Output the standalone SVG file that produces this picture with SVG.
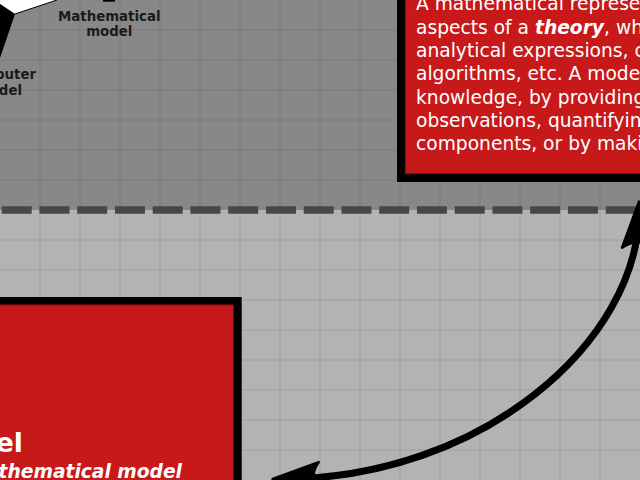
<svg xmlns="http://www.w3.org/2000/svg" width="640" height="480" viewBox="0 0 640 480">
  <defs>
    <style>
      .grid line { stroke: #000; stroke-opacity: 0.1; stroke-width: 1; }
      .box-frame { fill: #000; }
      .box-fill { fill: #c8191a; stroke: #8a1212; stroke-width: 1.2; }
      .body { font-family: "DejaVu Sans", Verdana, sans-serif; font-size: 18.67px; fill: #fff; }
      .label { font-family: "DejaVu Sans", Verdana, sans-serif; font-size: 13.33px; font-weight: bold; fill: #1a1a1a; text-anchor: middle; }
      .title { font-family: "DejaVu Sans", Verdana, sans-serif; font-weight: bold; fill: #fff; }
      .link { fill: none; stroke: #000; stroke-width: 7; }
    </style>
    <marker id="arrow2" markerUnits="strokeWidth" orient="auto-start-reverse" refX="0" refY="0" markerWidth="12" markerHeight="12" overflow="visible">
      <path d="M -5.23,-2.42 L 1.33,0 L -5.23,2.4 C -4.18,0.98 -4.19,-0.97 -5.23,-2.42 Z" fill="#000" stroke="#000" stroke-width="0.375" stroke-linejoin="round"/>
    </marker>
  </defs>

  <!-- two background bands -->
  <rect x="0" y="0" width="640" height="210" fill="#888888"/>
  <rect x="0" y="210" width="640" height="270" fill="#b3b3b3"/>

  <!-- 40 x 30 grid -->
  <g class="grid">
    <line x1="40" y1="0" x2="40" y2="480"/>
    <line x1="80" y1="0" x2="80" y2="480"/>
    <line x1="120" y1="0" x2="120" y2="480"/>
    <line x1="160" y1="0" x2="160" y2="480"/>
    <line x1="200" y1="0" x2="200" y2="480"/>
    <line x1="240" y1="0" x2="240" y2="480"/>
    <line x1="280" y1="0" x2="280" y2="480"/>
    <line x1="320" y1="0" x2="320" y2="480"/>
    <line x1="360" y1="0" x2="360" y2="480"/>
    <line x1="400" y1="0" x2="400" y2="480"/>
    <line x1="440" y1="0" x2="440" y2="480"/>
    <line x1="480" y1="0" x2="480" y2="480"/>
    <line x1="520" y1="0" x2="520" y2="480"/>
    <line x1="560" y1="0" x2="560" y2="480"/>
    <line x1="600" y1="0" x2="600" y2="480"/>
    <line x1="0" y1="30" x2="640" y2="30"/>
    <line x1="0" y1="60" x2="640" y2="60"/>
    <line x1="0" y1="90" x2="640" y2="90"/>
    <line x1="0" y1="120" x2="640" y2="120"/>
    <line x1="0" y1="150" x2="640" y2="150"/>
    <line x1="0" y1="180" x2="640" y2="180"/>
    <line x1="0" y1="240" x2="640" y2="240"/>
    <line x1="0" y1="270" x2="640" y2="270"/>
    <line x1="0" y1="300" x2="640" y2="300"/>
    <line x1="0" y1="330" x2="640" y2="330"/>
    <line x1="0" y1="360" x2="640" y2="360"/>
    <line x1="0" y1="390" x2="640" y2="390"/>
    <line x1="0" y1="420" x2="640" y2="420"/>
    <line x1="0" y1="450" x2="640" y2="450"/>
  </g>

  <!-- dashed separator between the bands -->
  <line x1="1.7" y1="210" x2="640" y2="210" stroke="#474747" stroke-width="7.5" stroke-dasharray="30 7.75"/>

  <!-- solid shape at the top left -->
  <g id="model-shape">
    <polygon points="0,0 57,0 15,14 0,4" fill="#fff"/>
    <polygon points="0,4 15,14 0,58" fill="#000"/>
    <line x1="15" y1="14" x2="57" y2="0" stroke="#000" stroke-width="1"/>
    <rect x="103" y="0" width="12" height="1.7" fill="#000"/>
  </g>

  <g id="mathematical-model-label">
    <text class="label" x="109.3" y="20.5">Mathematical</text>
    <text class="label" x="109.3" y="36">model</text>
  </g>

  <g id="computer-model-label">
    <text class="label" x="36" y="78.5" style="text-anchor:end">puter</text>
    <text class="label" x="22" y="94.5" style="text-anchor:end">del</text>
  </g>

  <!-- theory box -->
  <g id="theory-box">
    <rect class="box-frame" x="397" y="-60" width="300" height="242"/>
    <rect class="box-fill" x="405.5" y="-60" width="300" height="233.5"/>
    <text class="body" x="416" y="10.3">A mathematical represe</text>
    <text class="body" x="416" y="33.6">aspects of a <tspan font-weight="bold" font-style="italic">theory</tspan>, wh</text>
    <text class="body" x="416" y="56.9">analytical expressions, c</text>
    <text class="body" x="416" y="80.3">algorithms, etc. A mode</text>
    <text class="body" x="416" y="103.6">knowledge, by providing</text>
    <text class="body" x="416" y="126.9">observations, quantifyin</text>
    <text class="body" x="416" y="150.2">components, or by maki</text>
  </g>

  <!-- model box -->
  <g id="model-box">
    <rect class="box-frame" x="-60" y="297" width="301.7" height="240"/>
    <rect class="box-fill" x="-60" y="305" width="293.3" height="240"/>
    <text class="title" x="23" y="452" font-size="26.67" text-anchor="end">el</text>
    <text class="title" x="182" y="478.3" font-size="18.67" font-style="italic" text-anchor="end">thematical model</text>
  </g>

  <!-- connector between the two boxes -->
  <g id="connectors">
    <path class="link" d="M 282,479 C 482,479 639,341 639,211" marker-start="url(#arrow2)" marker-end="url(#arrow2)"/>
  </g>
</svg>
